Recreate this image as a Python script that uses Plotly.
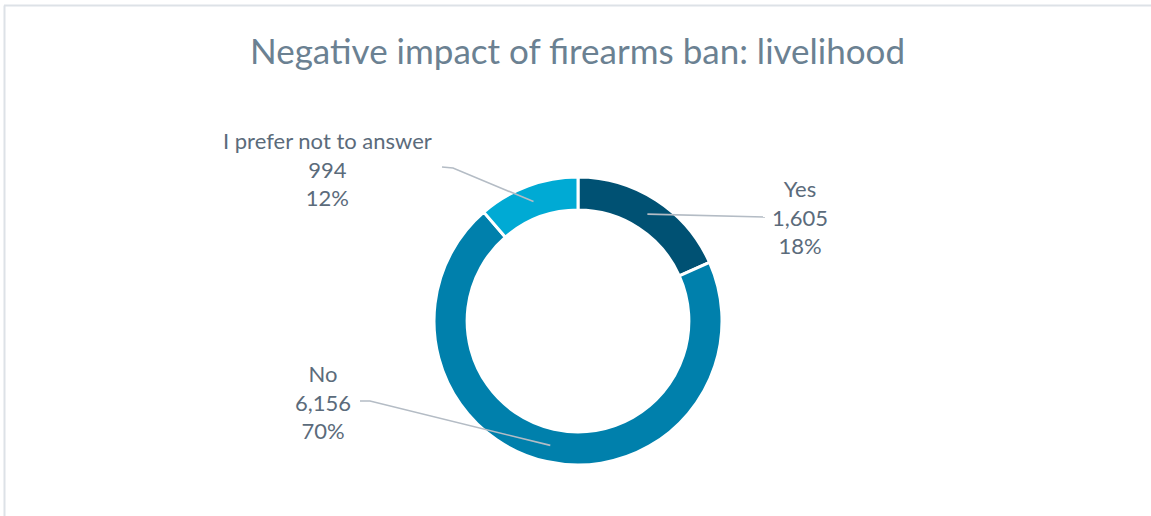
import math
import plotly.graph_objects as go

# Survey responses
categories = ["Yes", "No", "I prefer not to answer"]
counts = [1605, 6156, 994]
count_labels = ["1,605", "6,156", "994"]
percent_labels = ["18%", "70%", "12%"]
colors = ["#005173", "#0080ac", "#00aad4"]

W, H = 1151, 516
# donut geometry in pixels
cx, cy, r_out, hole = 578, 321, 144, 0.77
r_mid = r_out * (1 + hole) / 2

# label placement: text centre, elbow and end of the leader line (pixels)
placement = {
    "Yes": dict(tx=800, ty=217, elbow=None, end=(765, 217)),
    "No": dict(tx=323, ty=402, elbow=(370, 401), end=(360, 401)),
    "I prefer not to answer": dict(tx=327, ty=169, elbow=(453, 168), end=(442, 167)),
}

def px(x):
    return x / W

def py(y):
    return 1 - y / H

fig = go.Figure(
    go.Pie(
        labels=categories,
        values=counts,
        hole=hole,
        sort=False,
        direction="clockwise",
        rotation=0,
        marker=dict(colors=colors, line=dict(color="white", width=3)),
        textinfo="none",
        hoverinfo="label+value+percent",
        domain=dict(x=[px(cx - r_out), px(cx + r_out)], y=[py(cy + r_out), py(cy - r_out)]),
        showlegend=False,
    )
)

shapes = [
    # chart frame
    dict(type="line", xref="paper", yref="paper", x0=px(4), x1=1, y0=py(5.5), y1=py(5.5),
         line=dict(color="#dde2e7", width=2)),
    dict(type="line", xref="paper", yref="paper", x0=px(4.5), x1=px(4.5), y0=py(5.5), y1=0,
         line=dict(color="#dde2e7", width=2)),
]
annotations = []

total = sum(counts)
start = 0.0
for cat, val, cnt, pct in zip(categories, counts, count_labels, percent_labels):
    frac = val / total
    mid = (start + frac / 2) * 2 * math.pi  # clockwise from 12 o'clock
    start += frac
    x0 = cx + r_mid * math.sin(mid)
    y0 = cy - r_mid * math.cos(mid)
    p = placement[cat]
    pts = [(x0, y0)]
    if p["elbow"]:
        pts.append(p["elbow"])
    pts.append(p["end"])
    path = "M " + " L ".join(f"{px(a)},{py(b)}" for a, b in pts)
    shapes.append(dict(type="path", xref="paper", yref="paper", path=path,
                       line=dict(color="#b4bcc5", width=1.6)))
    annotations.append(dict(
        x=px(p["tx"]), y=py(p["ty"]), xref="paper", yref="paper",
        text=f"{cat}<br>{cnt}<br>{pct}", showarrow=False, align="center",
        xanchor="center", yanchor="middle",
        font=dict(family="Lato, sans-serif", size=22, color="#5b6b7b"),
    ))

annotations.append(dict(
    x=px(578), y=py(50), xref="paper", yref="paper",
    text="Negative impact of firearms ban: livelihood", showarrow=False,
    xanchor="center", yanchor="middle",
    font=dict(family="Lato, sans-serif", size=35, color="#6b8192"),
))

fig.update_layout(
    width=W, height=H,
    margin=dict(l=0, r=0, t=0, b=0),
    paper_bgcolor="white",
    plot_bgcolor="white",
    shapes=shapes,
    annotations=annotations,
)

fig.write_html("out.html")
